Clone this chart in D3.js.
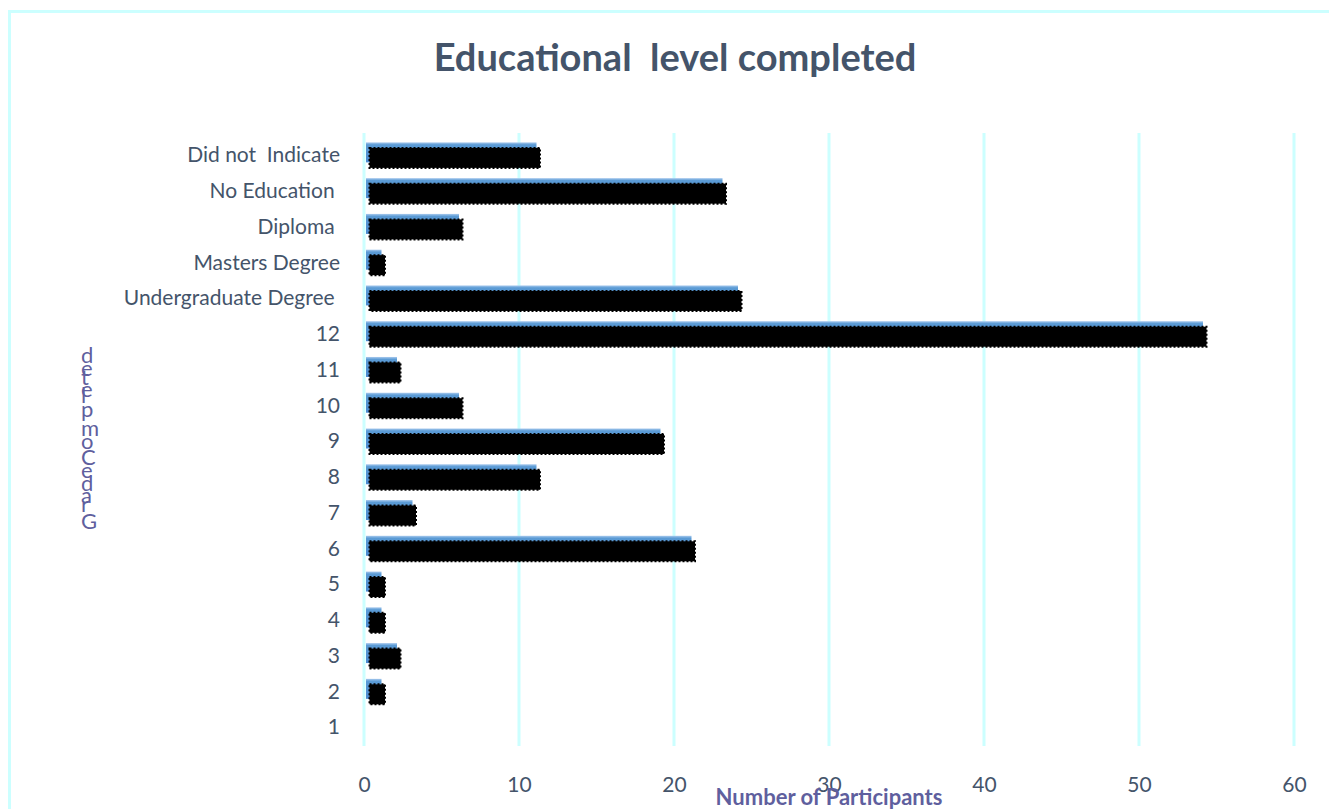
<!DOCTYPE html>
<html>
<head>
<meta charset="utf-8">
<script src="https://cdn.jsdelivr.net/npm/d3@7"></script>
<style>
  html, body { margin: 0; padding: 0; background: #fff; }
  svg { display: block; }
  text { font-family: Lato, "Open Sans", sans-serif; }
</style>
</head>
<body>
<svg id="chart" width="1329" height="809"></svg>
<script>
// Categories, listed top to bottom as they appear on the axis
const categories = [
  "Did not  Indicate", "No Education ", "Diploma ", "Masters Degree",
  "Undergraduate Degree ", "12", "11", "10", "9", "8", "7", "6", "5", "4", "3", "2", "1"
];
// Number of participants for each category
const participants = [11, 23, 6, 1, 24, 54, 2, 6, 19, 11, 3, 21, 1, 1, 2, 1, 0];
// X axis tick values
const xTicks = [0, 10, 20, 30, 40, 50, 60];

const chartTitle = "Educational  level completed";
const xTitle = "Number of Participants";
const yTitle = "Grade Completed";

const data = categories.map((c, i) => ({ cat: c, value: participants[i] }));

const svg = d3.select("#chart");
const W = 1329, H = 809;

const textColor = "#44546a";
const axisTitleColor = "#5f5f9e";
const gridColor = "#ccffff";

// outer frame
svg.append("rect")
  .attr("x", 9.5).attr("y", 11.5)
  .attr("width", W + 20).attr("height", H + 20)
  .attr("fill", "none")
  .attr("stroke", gridColor)
  .attr("stroke-width", 3);

const x = d3.scaleLinear().domain([0, 60]).range([364, 1294]);
const y = d3.scaleBand().domain(categories).range([137, 745]).paddingInner(0).paddingOuter(0);

// gradient for the blue bars
const defs = svg.append("defs");
const grad = defs.append("linearGradient").attr("id", "blueGrad")
  .attr("x1", 0).attr("y1", 0).attr("x2", 0).attr("y2", 1);
grad.append("stop").attr("offset", "0%").attr("stop-color", "#a9caee");
grad.append("stop").attr("offset", "12%").attr("stop-color", "#5b9bd5");
grad.append("stop").attr("offset", "100%").attr("stop-color", "#4a8ad0");

// vertical gridlines
svg.append("g")
  .selectAll("line")
  .data(xTicks)
  .join("line")
  .attr("x1", d => x(d)).attr("x2", d => x(d))
  .attr("y1", 133).attr("y2", 746)
  .attr("stroke", gridColor)
  .attr("stroke-width", 3);

// bars: blue face with a dotted black bar laid over it
const barH = 20;
const bars = svg.append("g");
bars.selectAll("rect.blue")
  .data(data.filter(d => d.value > 0))
  .join("rect")
  .attr("class", "blue")
  .attr("x", x(0) + 2)
  .attr("y", d => y(d.cat) + y.bandwidth() / 2 - 12.5)
  .attr("width", d => x(d.value) - x(0))
  .attr("height", barH)
  .attr("fill", "url(#blueGrad)");

bars.selectAll("rect.black")
  .data(data.filter(d => d.value > 0))
  .join("rect")
  .attr("class", "black")
  .attr("x", x(0) + 5.5)
  .attr("y", d => y(d.cat) + y.bandwidth() / 2 - 7)
  .attr("width", d => x(d.value) - x(0))
  .attr("height", barH)
  .attr("fill", "#000")
  .attr("stroke", "#000")
  .attr("stroke-width", 2)
  .attr("stroke-dasharray", "2,2");

// y axis labels
const yAxis = d3.axisLeft(y).tickSize(0).tickPadding(0);
const yg = svg.append("g").attr("transform", "translate(340,0)").call(yAxis);
yg.select(".domain").remove();
yg.selectAll("text")
  .attr("fill", textColor)
  .style("font-size", "21px")
  .style("white-space", "pre")
  .attr("dy", "0.35em");

// x axis labels
const xAxis = d3.axisBottom(x).tickValues(xTicks).tickSize(0).tickPadding(0);
const xg = svg.append("g").attr("transform", "translate(0,777)").call(xAxis);
xg.select(".domain").remove();
xg.selectAll("text")
  .attr("fill", textColor)
  .style("font-size", "21px");

// title
svg.append("text")
  .attr("x", 675).attr("y", 71)
  .attr("text-anchor", "middle")
  .attr("fill", textColor)
  .style("font-size", "38px")
  .style("font-weight", "bold")
  .style("white-space", "pre")
  .text(chartTitle);

// x axis title
svg.append("text")
  .attr("x", 829).attr("y", 805)
  .attr("text-anchor", "middle")
  .attr("fill", axisTitleColor)
  .style("font-size", "22px")
  .style("font-weight", "bold")
  .text(xTitle);

// y axis title: runs upward, each glyph kept upright
svg.append("text")
  .attr("transform", "translate(81,529) rotate(-90)")
  .attr("x", 0).attr("y", 0)
  .attr("rotate", 90)
  .attr("fill", axisTitleColor)
  .style("font-size", "22px")
  .style("word-spacing", "-6px")
  .style("letter-spacing", "1px")
  .text(yTitle);
</script>
</body>
</html>
